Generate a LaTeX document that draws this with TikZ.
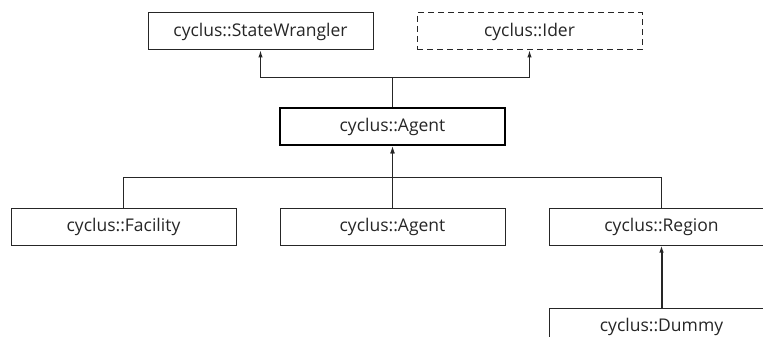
\documentclass[tikz,border=0pt]{standalone}
\usepackage{fontspec}
\setmainfont{Open Sans}
\usetikzlibrary{arrows.meta}
\begin{document}
\begin{tikzpicture}[x=1pt,y=-1pt,
  cls/.style={draw=black!85, line width=1pt, minimum width=225pt, minimum height=37pt,
    inner sep=0pt, font=\fontsize{17.5}{20}\selectfont, text=black!85},
  base/.style={cls, draw=black, line width=2.8pt},
  iface/.style={cls, dashed, dash pattern=on 6pt off 4pt},
  line/.style={draw=black!85, line width=1pt},
  conn/.style={line, -{Latex[length=7pt,width=4.5pt]}},
  conn2/.style={conn, line width=2pt}]
\useasboundingbox (0,0) rectangle (763,337);
\fill[white] (0,0) rectangle (763,337);
\node[cls]   (sw)    at (260.5,31.5) {cyclus::StateWrangler};
\node[iface] (ider)  at (529.5,31.5) {cyclus::Ider};
\node[base]  (agent) at (392.5,126.5) {cyclus::Agent};
\node[cls]   (fac)   at (123.5,226.5) {cyclus::Facility};
\node[cls]   (ag2)   at (392.5,226.5) {cyclus::Agent};
\node[cls]   (reg)   at (661.5,226.5) {cyclus::Region};
\node[cls]   (dum)   at (661.5,326.5) {cyclus::Dummy};
\coordinate (up)  at (392.5,78);
\coordinate (low) at (392.5,177);
\draw[conn] (agent.north) -- (up) -| (sw.south);
\draw[conn] (up) -| (ider.south);
\draw[conn] (fac.north) |- (low) -- (agent.south);
\draw[line] (reg.north) |- (low);
\draw[conn] (ag2.north) -- (agent.south);
\draw[conn2] (dum.north) -- (reg.south);
\end{tikzpicture}
\end{document}
